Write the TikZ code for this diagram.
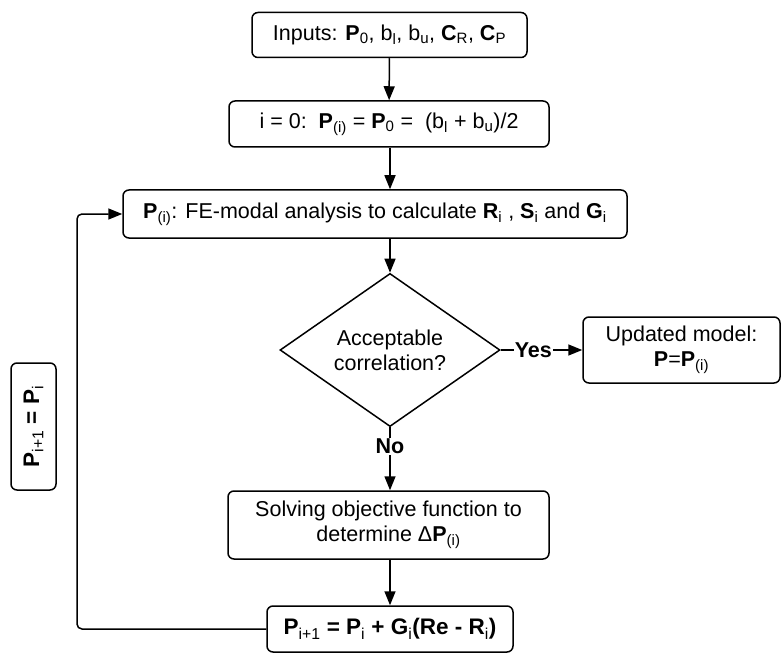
\documentclass[tikz,border=0pt]{standalone}
\usepackage{fontspec}
\setmainfont{Liberation Sans}
\usepackage{tikz}
\usetikzlibrary{shapes,arrows,arrows.meta,positioning}
\newcommand{\fsz}{\fontsize{21.5}{25}\selectfont}
\newcommand{\lo}[1]{\textsubscript{#1}}
\tikzstyle{stepbox} = [draw=black, line width=1.5pt, rectangle, rounded corners=6pt,
    align=center, inner sep=2pt]
\tikzstyle{decision} = [draw=black, line width=1.5pt, diamond, align=center,
    inner sep=0pt, minimum width=220pt, minimum height=134pt]
\tikzstyle{flow} = [draw=black, line width=1.5pt, -{Triangle[length=14pt,width=11pt]}]
\tikzstyle{answer} = [fill=white, font=\fsz\bfseries, inner sep=1pt]
\tikzstyle{boldbox} = [stepbox, font=\fontsize{22.5}{26}\selectfont\bfseries]

\begin{document}
\begin{tikzpicture}[x=1pt,y=-1pt,font=\fsz]
\useasboundingbox (0,0) rectangle (781,655);
\node [stepbox, minimum width=275pt, minimum height=45pt] (inputs) at (389.5,35)
    {Inputs: \textbf{P}\lo{0}, b\lo{l}, b\lo{u}, \textbf{C}\lo{R}, \textbf{C}\lo{P}};
\node [stepbox, minimum width=320pt, minimum height=46pt] (init) at (389,124)
    {i = 0:\ \ \textbf{P}\lo{(i)} = \textbf{P}\lo{0} =\ \ (b\lo{l} + b\lo{u})/2};
\node [stepbox, minimum width=504pt, minimum height=48pt] (fem) at (375,214)
    {\textbf{P}\lo{(i)}: FE-modal analysis to calculate \textbf{R}\lo{i} , \textbf{S}\lo{i} and \textbf{G}\lo{i}};
\node [decision] (check) at (390,350) {Acceptable\\correlation?};
\node [stepbox, minimum width=197pt, minimum height=66pt] (updated) at (681.5,350)
    {Updated model:\\\textbf{P}=\textbf{P}\lo{(i)}};
\node [stepbox, minimum width=321pt, minimum height=68pt] (solve) at (388.5,525)
    {Solving objective function to\\determine Δ\textbf{P}\lo{(i)}};
\node [boldbox, minimum width=246pt, minimum height=46pt] (step) at (390,629)
    {P\lo{\mdseries i+1} = P\lo{\mdseries i} + G\lo{\mdseries i}(Re - R\lo{\mdseries i})};
\node [boldbox, rotate=90, minimum width=127pt, minimum height=45pt] (next) at (33.5,426.5)
    {P\lo{\mdseries i+1} = P\lo{\mdseries i}};
\coordinate (loop) at (77,214);

\draw [flow] (inputs) -- (init);
\draw [flow] (init.south -| check.north) -- (fem.north -| check.north);
\draw [flow] (fem.south -| check.north) -- (check.north);
\draw [flow] (check.east) -- node[answer, pos=0.4] {Yes} (updated.west);
\draw [flow] (check.south) -- node[answer, pos=0.3] {No} (solve.north -| check.south);
\draw [flow] (solve.south -| step.north) -- (step.north);
\draw [flow, rounded corners=5pt] (step.west) -| (loop) -- (fem.west);
\end{tikzpicture}
\end{document}
